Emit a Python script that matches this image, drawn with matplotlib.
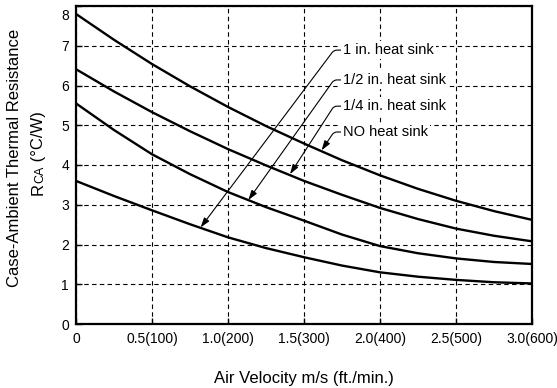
import numpy as np
import matplotlib
matplotlib.use('Agg')
import matplotlib.pyplot as plt
import matplotlib.transforms as mtrans

plt.rcParams['font.family'] = ['Liberation Sans', 'DejaVu Sans']

# air velocity, m/s
velocity = [0, 0.25, 0.5, 0.75, 1.0, 1.25, 1.5, 1.75, 2.0, 2.25, 2.5, 2.75, 3.0]
# case-ambient thermal resistance, degC/W
r_none = [7.80, 7.15, 6.54, 5.98, 5.46, 4.98, 4.54, 4.12, 3.74, 3.40, 3.10, 2.84, 2.62]
r_quarter = [6.41, 5.85, 5.33, 4.85, 4.40, 3.99, 3.60, 3.25, 2.92, 2.64, 2.40, 2.22, 2.08]
r_half = [5.55, 4.88, 4.27, 3.77, 3.32, 2.94, 2.60, 2.25, 1.96, 1.78, 1.65, 1.56, 1.51]
r_one = [3.60, 3.22, 2.86, 2.51, 2.18, 1.91, 1.68, 1.47, 1.30, 1.19, 1.11, 1.05, 1.02]

xticks = [0, 0.5, 1.0, 1.5, 2.0, 2.5, 3.0]
xticklabels = ['0', '0.5(100)', '1.0(200)', '1.5(300)', '2.0(400)', '2.5(500)', '3.0(600)']
yticks = [0, 1, 2, 3, 4, 5, 6, 7, 8]

labels = ['1 in. heat sink', '1/2 in. heat sink', '1/4 in. heat sink', 'NO heat sink']
label_y = [6.89, 6.14, 5.48, 4.83]
# where each leader arrow lands on its curve
tips = [(0.82, 2.43), (1.134, 3.12), (1.408, 3.77), (1.616, 4.37)]

W, H = 557, 388
fig = plt.figure(figsize=(W / 100, H / 100), dpi=100)
ax = fig.add_axes([76 / W, 1 - 324 / H, (532 - 76) / W, (324 - 6) / H])

for r in [r_none, r_quarter, r_half, r_one]:
    ax.plot(velocity, r, color='k', lw=1.7, solid_capstyle='butt',
            solid_joinstyle='round')

ax.set_xlim(0, 3)
ax.set_ylim(0, 8)
ax.set_xticks(xticks)
ax.set_xticklabels(xticklabels)
ax.set_yticks(yticks)
ax.tick_params(direction='in', length=4, width=1.0, labelsize=10, colors='k')
ax.tick_params(axis='x', pad=6)
ax.tick_params(axis='y', pad=5)
ax.set_axisbelow(True)
ax.grid(True, color='k', lw=0.8, linestyle=(0, (4, 3)))
for sp in ax.spines.values():
    sp.set_linewidth(1.6)

# the top "8" sits a bit below its line in the original
lab8 = ax.get_yticklabels()[-1]
lab8.set_transform(lab8.get_transform() + mtrans.ScaledTranslation(0, -0.09, fig.dpi_scale_trans))

# leader arrows with short hook into each label
corner_x = 1.697
for txt, ty, tip in zip(labels, label_y, tips):
    p_tip = ax.transData.transform(tip)
    p_c = ax.transData.transform((corner_x, ty))
    ang = np.degrees(np.arctan2(p_c[1] - p_tip[1], p_c[0] - p_tip[0]))
    ax.annotate(txt, xy=tip, xytext=(1.757, ty), fontsize=10.5,
                ha='left', va='center',
                bbox=dict(boxstyle='square,pad=0.15', fc='white', ec='none'),
                arrowprops=dict(arrowstyle='-|>,head_length=0.55,head_width=0.18',
                                color='k', lw=0.8, shrinkA=0, shrinkB=0,
                                relpos=(0, 0.5),
                                connectionstyle='angle,angleA=0,angleB=%.2f,rad=3' % ang))

fig.text(304 / W, 1 - 378 / H, 'Air Velocity m/s (ft./min.)', fontsize=12,
         ha='center', va='center')
fig.text(15 / W, 1 - 158 / H, 'Case-Ambient Thermal Resistance', fontsize=12,
         rotation=90, ha='center', va='center')

# second y-label line: R with small-cap CA
renderer = fig.canvas.get_renderer()
pieces = [('R', 12), ('CA', 9), (' (°C/W)', 12)]
texts = []
for s, fs in pieces:
    t = fig.text(0, 0, s, fontsize=fs, rotation=90, rotation_mode='anchor',
                 ha='left', va='baseline')
    texts.append(t)
lens = [t.get_window_extent(renderer).height for t in texts]
ypix = (H - 153) - sum(lens) / 2
for t, ln in zip(texts, lens):
    t.set_position((43 / W, ypix / H))
    ypix += ln

fig.savefig('out.png', dpi=100)
